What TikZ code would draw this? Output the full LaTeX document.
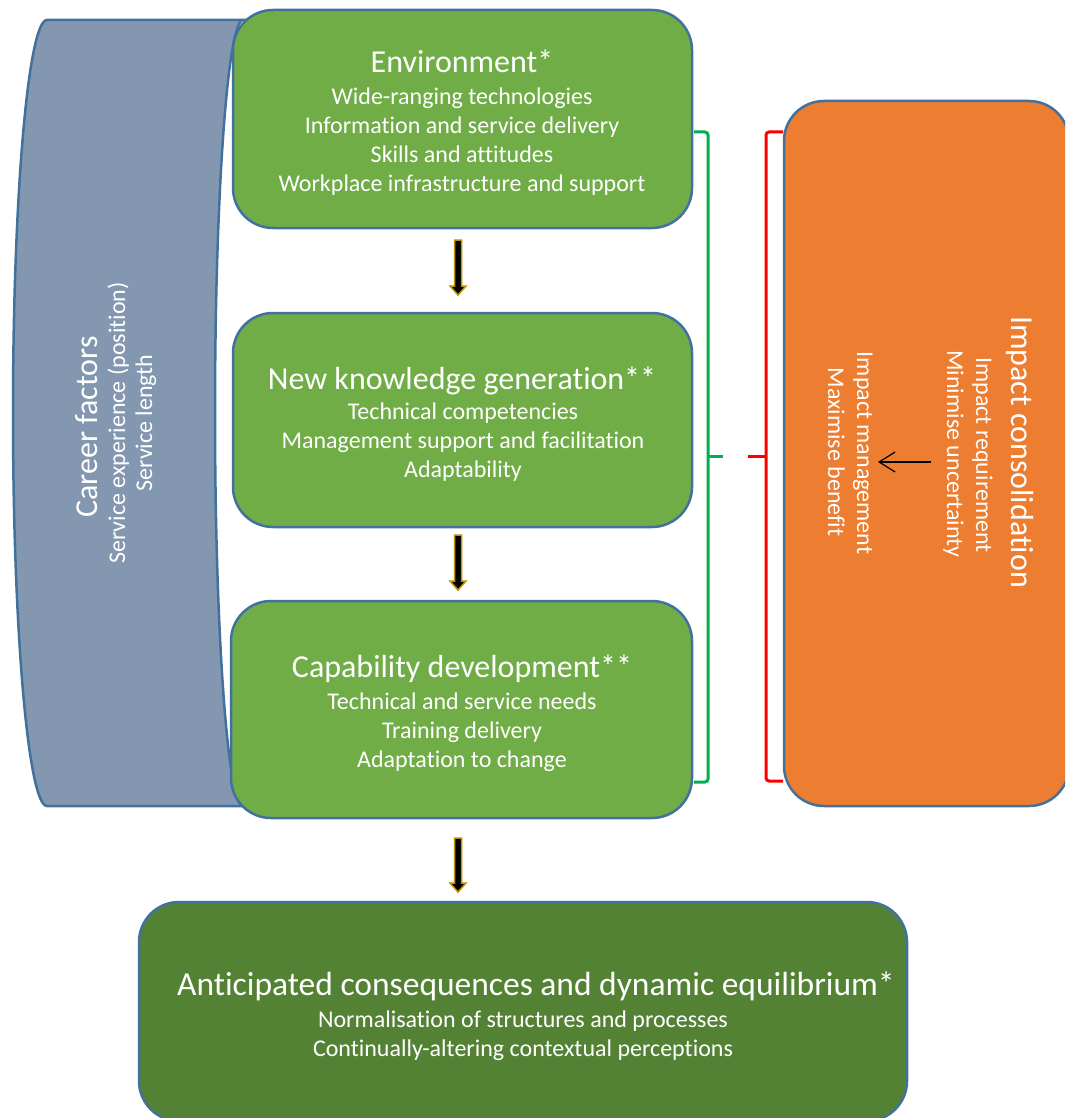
\documentclass[tikz,border=0pt]{standalone}
\usepackage{fontspec}
\setmainfont{Carlito}[Ligatures=NoCommon]
\usetikzlibrary{calc,arrows.meta}
\definecolor{boxgreen}{HTML}{70AD47}
\definecolor{darkgreen}{HTML}{548235}
\definecolor{boxorange}{HTML}{ED7D31}
\definecolor{boxgray}{HTML}{8497B0}
\definecolor{outline}{HTML}{41719C}
\definecolor{bracegreen}{HTML}{00B050}
\definecolor{bracered}{HTML}{FF0000}
\definecolor{gold}{HTML}{BF9000}
\newcommand\goldarrow[2]{%
  \filldraw[blockarrow] ($(#1)+(-3.5,0)$) -- ($(#2)+(-3.5,9)$) -- ($(#2)+(-8,9)$) -- (#2)
    -- ($(#2)+(8,9)$) -- ($(#2)+(3.5,9)$) -- ($(#1)+(3.5,0)$) -- cycle;}
\begin{document}
\begin{tikzpicture}[x=1pt,y=1pt,
  rbox/.style={draw=outline, line width=2.5pt, rounded corners=40pt, inner sep=0pt, outer sep=0pt},
  gbox/.style={rbox, fill=boxgreen},
  ttl/.style={text=white, font=\fontsize{32}{38}\selectfont, inner sep=0pt, anchor=base},
  bigttl/.style={text=white, font=\fontsize{33.5}{40}\selectfont, inner sep=0pt, anchor=base},
  sub/.style={text=white, font=\fontsize{24}{29}\selectfont, inner sep=0pt, anchor=base},
  blockarrow/.style={fill=black, draw=gold, line width=1.5pt},
  brace/.style={line width=3pt, rounded corners=3pt}]
\useasboundingbox (0,0) rectangle (1065,-1118);
\clip (0,0) rectangle (1065,-1118);

% career factors band
\filldraw[fill=boxgray, draw=outline, line width=2.5pt]
  (47,-20) -- (243,-20) arc[start angle=90, end angle=270, x radius=28, y radius=393]
  -- (47,-806) arc[start angle=270, end angle=90, x radius=34, y radius=393] -- cycle;

% green boxes
\node[gbox, minimum width=459pt, minimum height=218pt] (env) at (462.5,-119) {};
\node[gbox, minimum width=459pt, minimum height=214pt] (nkg) at (462.5,-420) {};
\node[gbox, minimum width=461pt, minimum height=217pt] (cap) at (461.5,-709.5) {};
\node[rbox, fill=darkgreen, minimum width=768pt, minimum height=219pt] (ant) at (523,-1011.5) {};
\node[rbox, fill=boxorange, minimum width=285pt, minimum height=705pt] (imp) at (926.5,-453.5) {};

% braces
\draw[brace, bracegreen] (694,-132) -- (708,-132) -- (708,-782) -- (694,-782);
\coordinate (gmid) at (708,-456);
\coordinate (gtip) at (723,-456);
\draw[line width=3pt, bracegreen] (gmid) -- (gtip);
\draw[brace, bracered] (783,-132) -- (766,-132) -- (766,-781) -- (783,-781);
\coordinate (rmid) at (766,-456);
\coordinate (rtip) at (748,-456);
\draw[line width=3pt, bracered] (rmid) -- (rtip);

% block arrows
\coordinate (a1s) at (458,-240); \coordinate (a1e) at (458,-295);
\coordinate (a2s) at (458,-535); \coordinate (a2e) at (458,-590);
\coordinate (a3s) at (458,-838); \coordinate (a3e) at (458,-892);
\goldarrow{a1s}{a1e}
\goldarrow{a2s}{a2e}
\goldarrow{a3s}{a3e}

% environment text
\node[ttl] (envt) at (462,-73) {Environment*};
\node[sub] (env1) at (462,-104.5) {Wide-ranging technologies};
\node[sub] (env2) at (462,-133.5) {Information and service delivery};
\node[sub] (env3) at (462,-162.5) {Skills and attitudes};
\node[sub] (env4) at (462,-191) {Workplace infrastructure and support};

% new knowledge text
\node[ttl] (nkgt) at (462,-389) {New knowledge generation**};
\node[sub] (nkg1) at (463,-419) {Technical competencies};
\node[sub] (nkg2) at (463,-448) {Management support and facilitation};
\node[sub] (nkg3) at (463,-477) {Adaptability};

% capability text
\node[ttl] (capt) at (462,-677) {Capability development**};
\node[sub] (cap1) at (462,-709) {Technical and service needs};
\node[sub] (cap2) at (462,-738) {Training delivery};
\node[sub] (cap3) at (462,-767) {Adaptation to change};

% anticipated text
\node[bigttl] (antt) at (536,-995) {Anticipated consequences and dynamic equilibrium*};
\node[sub] (ant1) at (523,-1027) {Normalisation of structures and processes};
\node[sub] (ant2) at (523,-1056) {Continually-altering contextual perceptions};

% career factors text
\node[ttl, rotate=90] (cart) at (97,-427) {Career factors};
\node[sub, rotate=90] (car1) at (125,-423) {Service experience (position)};
\node[sub, rotate=90] (car2) at (152,-423) {Service length};

% impact text
\node[ttl, rotate=-90] (impt) at (1011,-452) {Impact consolidation};
\node[sub, rotate=-90] (imp1) at (976,-455) {Impact requirement};
\node[sub, rotate=-90] (imp2) at (947,-454) {Minimise uncertainty};
\node[sub, rotate=-90] (imp3) at (857,-453) {Impact management};
\node[sub, rotate=-90] (imp4) at (828,-452) {Maximise benefit};

% small arrow
\coordinate (sas) at (931,-462);
\coordinate (sae) at (878,-462);
\draw[line width=1.2pt, -{Straight Barb[length=16pt, width=20pt]}] (sas) -- (sae);
\end{tikzpicture}
\end{document}
